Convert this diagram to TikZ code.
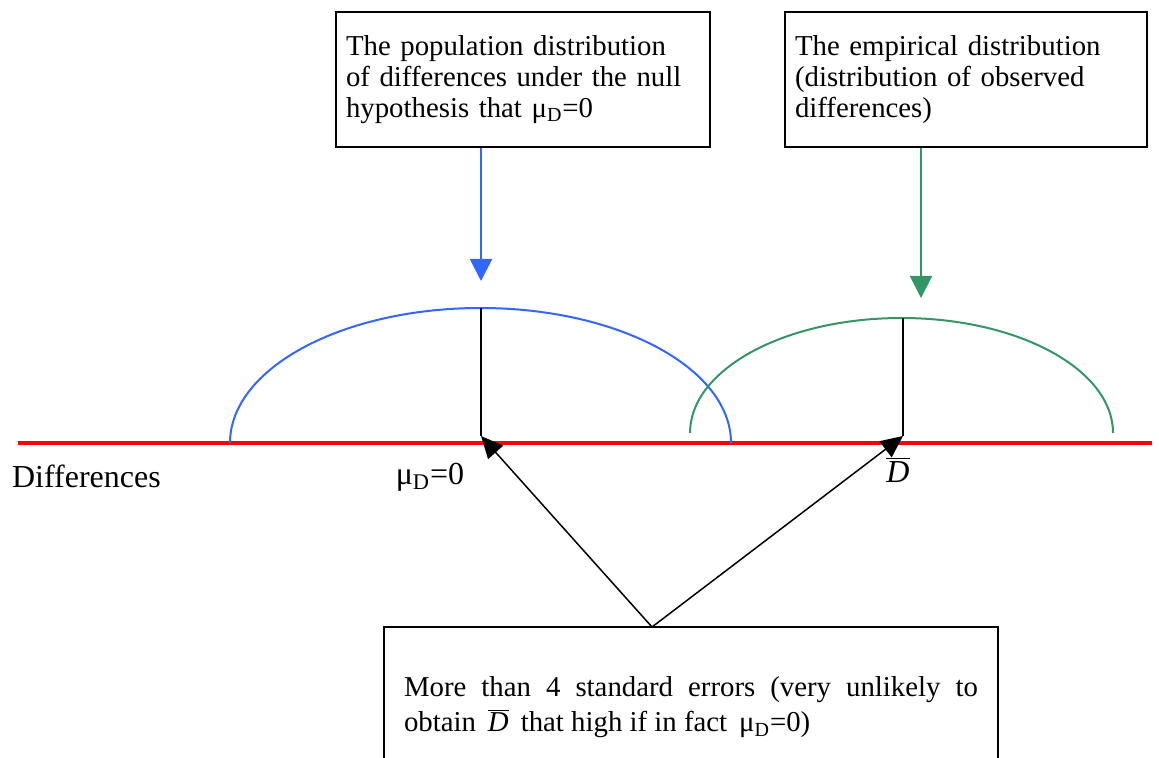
\documentclass[tikz,border=0pt]{standalone}
\usepackage{fontspec}
\setmainfont{Liberation Serif}
\usetikzlibrary{arrows.meta}

\definecolor{nullblue}{RGB}{51,102,255}
\definecolor{empgreen}{RGB}{51,150,102}
\newcommand{\Dbar}{$\overline{\mbox{\textit{D}}}$}

\begin{document}
\begin{tikzpicture}[x=0.5pt,y=-0.5pt,
    every node/.style={font=\fontsize{14.4}{15.5}\selectfont},
    txtbox/.style={draw,line width=0.9pt,inner xsep=5pt,align=left},
    axislabel/.style={font=\fontsize{16}{18}\selectfont},
    bigtip/.style={-{Triangle[length=11pt,width=11pt]}},
    smalltip/.style={-{Triangle[length=11pt,width=10pt]}}]
\clip (0,0) rectangle (1159,758);

% key points on the axis
\coordinate (nullpeak) at (481,308);
\coordinate (muzero) at (481,436);
\coordinate (emppeak) at (903,318);
\coordinate (dbarpt) at (903,436);
\coordinate (nullhead) at (481,281);
\coordinate (emphead) at (921,298);
\coordinate (fork) at (652,627);

% boxes
\node[txtbox,text width=177pt,minimum width=187pt,minimum height=67.5pt] (nullbox) at (523,79.5)
  {The population distribution\\ of differences under the null\\ hypothesis that μ\textsubscript{D}=0\\[3pt]};
\node[txtbox,text width=171pt,minimum width=181pt,minimum height=67.5pt] (empbox) at (966,79.5)
  {The empirical distribution\\ (distribution of observed\\ differences)\\[3pt]};
\node[txtbox,inner xsep=10pt,text width=287pt,minimum width=307pt,minimum height=80.5pt,align=justify,
      font=\fontsize{14.4}{17.5}\selectfont] (sebox) at (691,707.5)
  {More than 4 standard errors (very unlikely to \mbox{obtain} \,\Dbar\, that high if in fact \,μ\textsubscript{D}=0)};

% axis
\draw[red,line width=2pt] (18,443) -- (1152,443);

% null distribution
\draw[nullblue,line width=1pt] (230,443) arc[start angle=180,end angle=360,x radius=250.5,y radius=135];
\draw[line width=0.75pt] (nullpeak) -- (muzero);

% empirical distribution
\draw[empgreen,line width=1pt] (690,433) arc[start angle=180,end angle=360,x radius=211.5,y radius=115];
\draw[line width=0.75pt] (emppeak) -- (dbarpt);

% arrows from boxes
\draw[nullblue,line width=1pt,bigtip] (nullbox.south -| nullhead) -- (nullhead);
\draw[empgreen,line width=1pt,bigtip] (empbox.south -| emphead) -- (emphead);
\draw[line width=0.75pt,smalltip] (fork) -- (muzero);
\draw[line width=0.75pt,smalltip] (fork) -- (dbarpt);

% labels
\node[axislabel,anchor=west] (difflabel) at (5,476) {Differences};
\node[axislabel] (mulabel) at (430,477) {μ\textsubscript{D}=0};
\node[axislabel] (dbarlabel) at (898,470) {\Dbar};
\end{tikzpicture}
\end{document}
